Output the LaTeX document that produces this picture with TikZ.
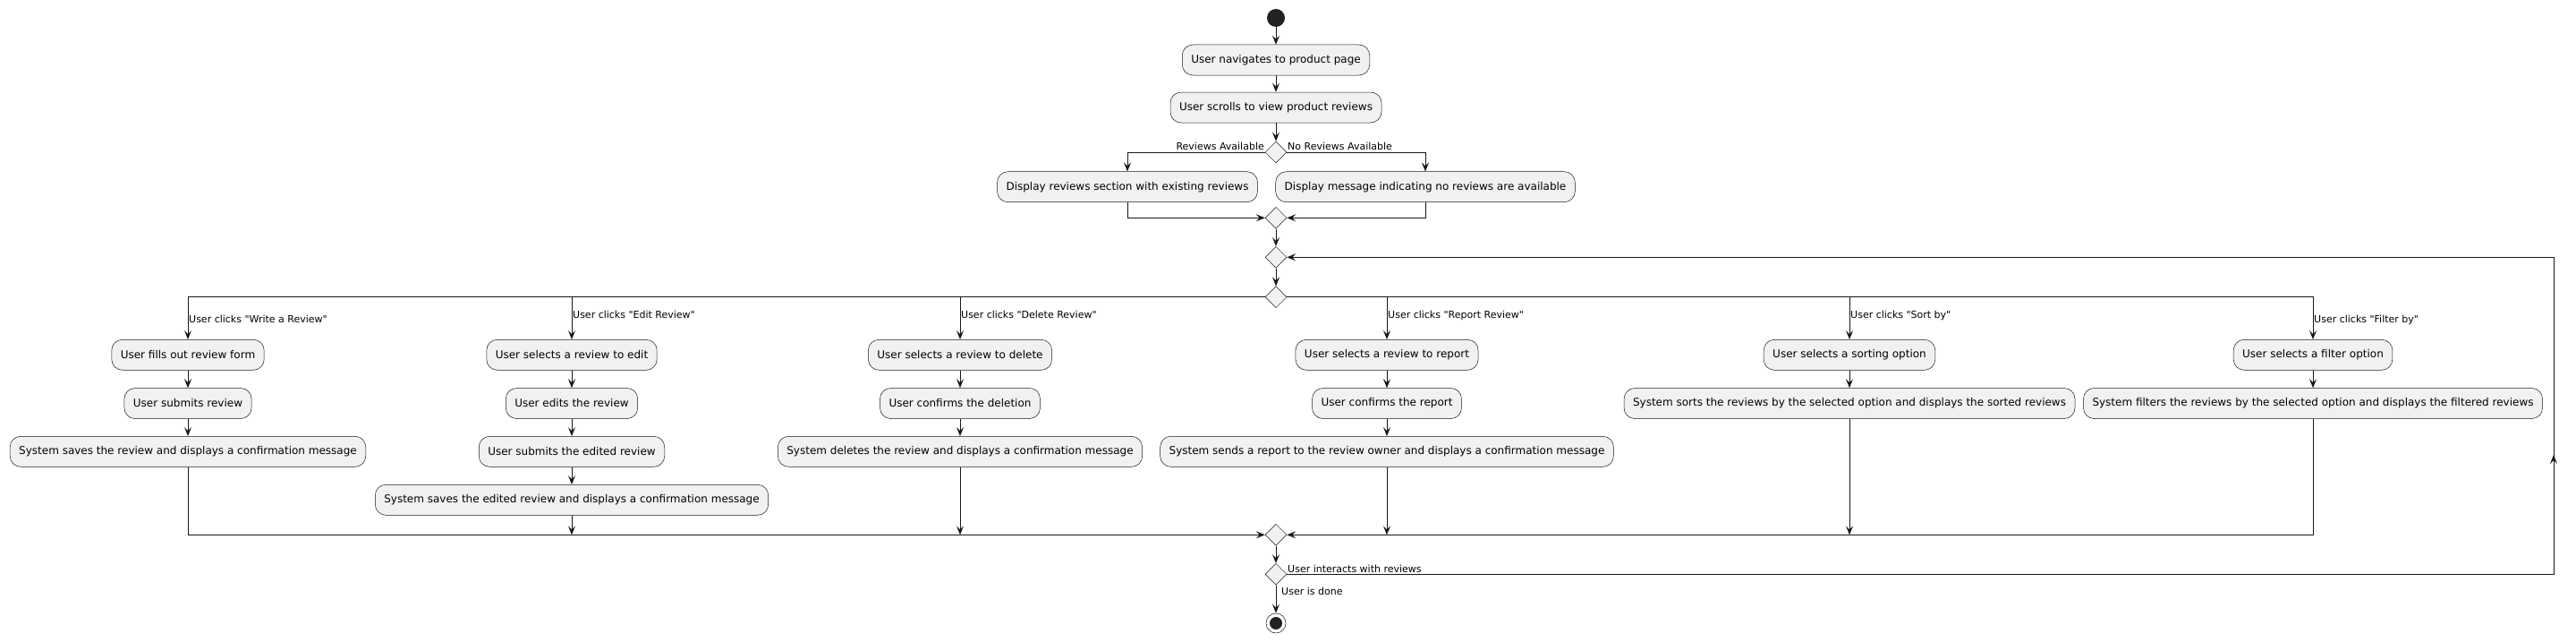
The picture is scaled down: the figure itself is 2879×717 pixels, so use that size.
\documentclass[tikz,border=0pt]{standalone}
\usepackage{fontspec}
\setmainfont{DejaVu Sans}[Ligatures=TeXOff]
\usetikzlibrary{arrows.meta,shapes.geometric}
\definecolor{cline}{HTML}{181818}
\definecolor{cfill}{HTML}{F1F1F1}
\definecolor{cdot}{HTML}{222222}
\tikzset{
  act/.style={draw=cline, line width=0.5pt, fill=cfill, rounded corners=12pt,
    minimum height=34pt, inner xsep=10pt, inner ysep=0pt,
    font=\fontsize{12}{14}\selectfont, text=black},
  dia/.style={shape=diamond, draw=cline, line width=0.5pt, fill=cfill,
    minimum width=24pt, minimum height=24pt, inner sep=0pt},
  arr/.style={draw=cline, line width=1pt,
    -{Stealth[length=10pt,width=8pt,inset=4pt]}},
  ln/.style={draw=cline, line width=1pt},
  lbl/.style={inner sep=0pt, font=\fontsize{11}{13}\selectfont, text=black},
}
\begin{document}
\begin{tikzpicture}[x=1pt,y=-1pt]
\useasboundingbox[fill=white] (0,0) rectangle (2879,717);
% start
\node[circle, fill=cdot, minimum size=20pt, inner sep=0pt] (start) at (1426,20) {};
\node[act] (nav) at (1426,67) {User navigates to product page};
\node[act] (scroll) at (1426,120) {User scrolls to view product reviews};
\node[dia] (d1) at (1426,170) {};
\node[act] (disL) at (1260,208.7) {Display reviews section with existing reviews};
\node[act] (disR) at (1593,208.7) {Display message indicating no reviews are available};
\node[dia] (m1) at (1426,243.3) {};
\node[dia] (m2) at (1426,287.3) {};
\node[dia] (sp) at (1426,331.7) {};
% column 1
\node[act] (w1) at (210,396.3) {User fills out review form};
\node[act] (w2) at (210,450.5) {User submits review};
\node[act] (w3) at (210,504.3) {System saves the review and displays a confirmation message};
% column 2
\node[act] (e1) at (639,396.3) {User selects a review to edit};
\node[act] (e2) at (639,450.5) {User edits the review};
\node[act] (e3) at (639,504.3) {User submits the edited review};
\node[act] (e4) at (639,558.3) {System saves the edited review and displays a confirmation message};
% column 3
\node[act] (x1) at (1073,396.3) {User selects a review to delete};
\node[act] (x2) at (1073,450.5) {User confirms the deletion};
\node[act] (x3) at (1073,504.3) {System deletes the review and displays a confirmation message};
% column 4
\node[act] (r1) at (1550,396.3) {User selects a review to report};
\node[act] (r2) at (1550,450.5) {User confirms the report};
\node[act] (r3) at (1550,504.3) {System sends a report to the review owner and displays a confirmation message};
% column 5
\node[act] (s1) at (2067,396.3) {User selects a sorting option};
\node[act] (s2) at (2067,450.5) {System sorts the reviews by the selected option and displays the sorted reviews};
% column 6
\node[act] (f1) at (2585,396.3) {User selects a filter option};
\node[act] (f2) at (2585,450.5) {System filters the reviews by the selected option and displays the filtered reviews};
% bottom
\node[dia] (m3) at (1426,597.3) {};
\node[dia] (ld) at (1426,641.3) {};
\node[circle, draw=cline, line width=0.5pt, fill=white, minimum size=22pt, inner sep=0pt] (stop) at (1426,696) {};
\node[circle, fill=cdot, minimum size=14pt, inner sep=0pt] (stopdot) at (stop.center) {};
\coordinate (lr) at (2854,641.3);
\coordinate (lrmid) at (2854,508);

% connectors
\draw[arr] (start) -- (nav);
\draw[arr] (nav) -- (scroll);
\draw[arr] (scroll) -- (d1);
\draw[arr] (d1.west) -| (disL.north);
\draw[arr] (d1.east) -| (disR.north);
\draw[arr] (disL.south) |- (m1.west);
\draw[arr] (disR.south) |- (m1.east);
\draw[arr] (m1) -- (m2);
\draw[arr] (m2) -- (sp);
% split
\draw[arr] (sp.west) -| (w1.north);
\draw[arr] (sp.west) -| (e1.north);
\draw[arr] (sp.west) -| (x1.north);
\draw[arr] (sp.east) -| (r1.north);
\draw[arr] (sp.east) -| (s1.north);
\draw[arr] (sp.east) -| (f1.north);
% columns
\draw[arr] (w1) -- (w2);
\draw[arr] (w2) -- (w3);
\draw[arr] (e1) -- (e2);
\draw[arr] (e2) -- (e3);
\draw[arr] (e3) -- (e4);
\draw[arr] (x1) -- (x2);
\draw[arr] (x2) -- (x3);
\draw[arr] (r1) -- (r2);
\draw[arr] (r2) -- (r3);
\draw[arr] (s1) -- (s2);
\draw[arr] (f1) -- (f2);
% join
\draw[arr] (w3.south) |- (m3.west);
\draw[arr] (e4.south) -- (e4.south |- m3);
\draw[arr] (x3.south) -- (x3.south |- m3);
\draw[arr] (r3.south) -- (r3.south |- m3);
\draw[arr] (s2.south) -- (s2.south |- m3);
\draw[arr] (f2.south) |- (m3.east);
\draw[arr] (m3) -- (ld);
\draw[arr] (ld) -- (stop);
% loop back
\draw[arr] (ld.east) -- (lr) -- (lr |- m2) -- (m2.east);
\draw[arr] (lr) -- (lrmid);

% labels
\node[lbl, anchor=base east] (lbA) at (1413,167.5) {Reviews Available};
\node[lbl, anchor=base west] (lbB) at (1439,167.5) {No Reviews Available};
\node[lbl, anchor=base west] (lbW) at (211,360.5) {User clicks "Write a Review"};
\node[lbl, anchor=base west] (lbE) at (640,355.5) {User clicks "Edit Review"};
\node[lbl, anchor=base west] (lbD) at (1074,355.5) {User clicks "Delete Review"};
\node[lbl, anchor=base west] (lbR) at (1551,355.5) {User clicks "Report Review"};
\node[lbl, anchor=base west] (lbS) at (2068,355.5) {User clicks "Sort by"};
\node[lbl, anchor=base west] (lbF) at (2586,360.5) {User clicks "Filter by"};
\node[lbl, anchor=base west] (lbI) at (1439,639) {User interacts with reviews};
\node[lbl, anchor=base west] (lbU) at (1432,664) {User is done};
\end{tikzpicture}
\end{document}
